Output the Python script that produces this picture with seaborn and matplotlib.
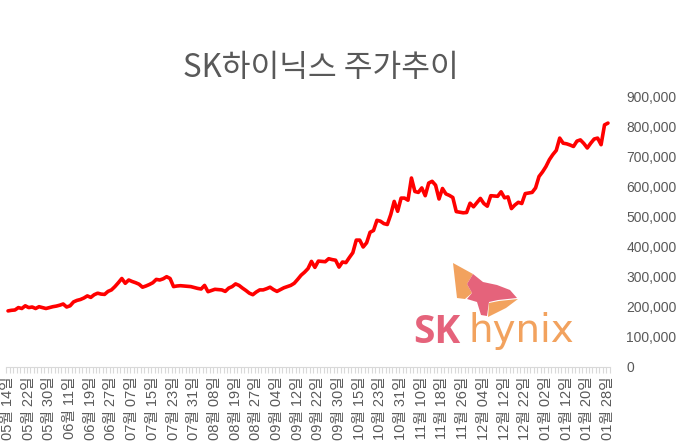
import numpy as np
import pandas as pd
import matplotlib
matplotlib.use("Agg")
import matplotlib.pyplot as plt
import matplotlib.ticker as mtick
from matplotlib.patches import Polygon
import seaborn as sns

# Data: SK hynix daily close (KRW), 2025-05-14 ~ 2026-01-28
PRICES = [
    187000, 189000, 190000, 198000, 195000, 204000, 198000, 200000, 195000, 201000,
    198000, 195000, 198000, 201000, 203000, 206000, 210000, 200000, 204000, 217000,
    222000, 225000, 230000, 237000, 232000, 241000, 246000, 243000, 242000, 252000,
    257000, 268000, 281000, 295000, 279000, 290000, 285000, 281000, 276000, 266000,
    270000, 275000, 281000, 292000, 290000, 294000, 301000, 295000, 268000, 270000,
    271000, 270000, 269000, 268000, 265000, 262000, 260000, 272000, 251000, 255000,
    259000, 258000, 257000, 252000, 263000, 268000, 277000, 272000, 263000, 255000,
    246000, 241000, 250000, 257000, 257000, 261000, 266000, 258000, 252000, 258000,
    264000, 268000, 272000, 279000, 292000, 306000, 316000, 328000, 352000, 332000,
    353000, 352000, 351000, 361000, 358000, 356000, 333000, 350000, 348000, 365000,
    381000, 423000, 423000, 400000, 414000, 449000, 455000, 489000, 486000, 478000,
    475000, 508000, 552000, 519000, 563000, 563000, 556000, 630000, 585000, 582000,
    597000, 571000, 613000, 619000, 606000, 560000, 595000, 577000, 572000, 565000,
    518000, 516000, 514000, 515000, 546000, 534000, 548000, 562000, 545000, 536000,
    571000, 570000, 569000, 584000, 564000, 567000, 528000, 540000, 549000, 545000,
    578000, 580000, 582000, 597000, 635000, 650000, 668000, 691000, 708000, 722000,
    763000, 746000, 744000, 740000, 735000, 753000, 757000, 745000, 730000, 746000,
    760000, 763000, 741000, 807000, 813000,
]

# Tick labels, one every 6 trading days
TICK_LABELS = [
    "05월 14일", "05월 22일", "05월 30일", "06월 11일", "06월 19일", "06월 27일",
    "07월 07일", "07월 15일", "07월 23일", "07월 31일", "08월 08일", "08월 19일",
    "08월 27일", "09월 04일", "09월 12일", "09월 22일", "09월 30일", "10월 15일",
    "10월 23일", "10월 31일", "11월 10일", "11월 18일", "11월 26일", "12월 04일",
    "12월 12일", "12월 22일", "01월 02일", "01월 12일", "01월 20일", "01월 28일",
]
LABEL_STEP = 6

TITLE = "SK하이닉스 주가추이"
GRAY = "#595959"
LIGHT = "#D9D9D9"

sns.set_theme(style="white")
plt.rcParams["font.family"] = ["Liberation Sans", "Noto Sans CJK KR", "DejaVu Sans"]

df = pd.DataFrame({"idx": np.arange(len(PRICES)), "close": PRICES})

W, H = 692, 447
fig = plt.figure(figsize=(W / 100, H / 100), dpi=100)
fig.patch.set_facecolor("white")

# SK hynix logo watermark (pixel overlay, behind the chart)
ov = fig.add_axes([0, 0, 1, 1], zorder=0)
ov.set_xlim(0, W)
ov.set_ylim(H, 0)
ov.axis("off")
orange, pink = "#F2A25E", "#E5637B"
ov.add_patch(Polygon([(453, 263), (473, 274), (467, 284), (472, 293), (465, 299), (457, 298)],
                     closed=True, color=orange, lw=0))
ov.add_patch(Polygon([(473, 274), (483, 282), (497, 285), (510, 290), (517, 298), (498, 300),
                      (489, 302), (487, 316), (481, 315), (477, 302), (467, 299), (472, 293),
                      (467, 284)], closed=True, color=pink, lw=0))
ov.add_patch(Polygon([(489, 303), (499, 301), (518, 299), (506, 308), (488, 317)],
                     closed=True, color=orange, lw=0))
ov.text(413, 343, "SK", fontsize=28, fontweight="bold", color=pink, ha="left", va="baseline",
        family="Open Sans")
ov.text(469, 342, "hynix", fontsize=28, color=orange, ha="left", va="baseline",
        family="DejaVu Sans")

# plot area (pixel based)
left, right, top, bottom = 6.3, 609.7, 97, 367
ax = fig.add_axes([left / W, 1 - bottom / H, (right - left) / W, (bottom - top) / H], zorder=1)
ax.patch.set_alpha(0)

sns.lineplot(data=df, x="idx", y="close", ax=ax, color="#FF0000", linewidth=2.6)

ax.set_xlim(-0.5, len(PRICES) - 0.5)
ax.set_ylim(0, 900000)
ax.yaxis.tick_right()
ax.yaxis.set_major_locator(mtick.MultipleLocator(100000))
ax.yaxis.set_major_formatter(mtick.FuncFormatter(lambda v, p: f"{int(v):,}"))
ax.tick_params(axis="y", length=0, pad=12, labelsize=10, labelcolor=GRAY)

ax.set_xticks(np.arange(0, len(PRICES), LABEL_STEP))
ax.set_xticklabels(TICK_LABELS, rotation=90, fontsize=10.5, color=GRAY)
ax.set_xticks(np.arange(-0.5, len(PRICES), 1), minor=True)
ax.tick_params(axis="x", which="major", length=0, pad=7)
ax.tick_params(axis="x", which="minor", length=4, color=LIGHT, width=0.8, bottom=True)

for s in ["top", "left", "right"]:
    ax.spines[s].set_visible(False)
ax.spines["bottom"].set_color(LIGHT)
ax.spines["bottom"].set_linewidth(0.8)
ax.set_xlabel("")
ax.set_ylabel("")
ax.grid(False)

fig.text(321 / W, 1 - 68 / H, TITLE, ha="center", va="center", fontsize=22.5, color=GRAY,
         family=["Noto Sans CJK KR", "DejaVu Sans"])

fig.savefig("out.png", dpi=100)
